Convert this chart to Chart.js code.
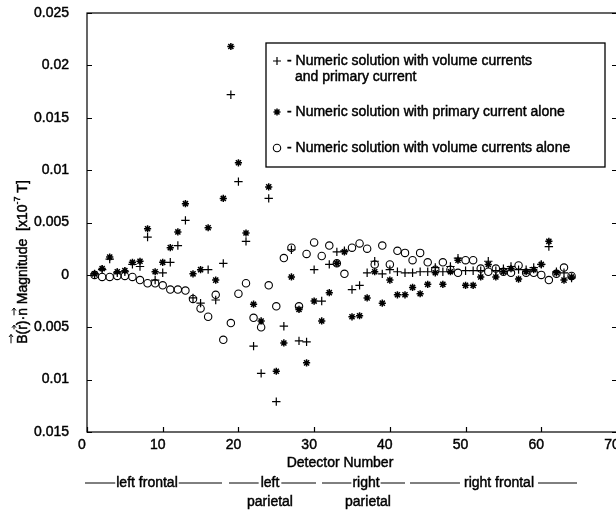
<!DOCTYPE html>
<html>
<head>
<meta charset="utf-8">
<script src="https://cdn.jsdelivr.net/npm/chart.js@4.4.1/dist/chart.umd.min.js"></script>
<style>
  html, body { margin: 0; padding: 0; background: #fff; overflow: hidden; }
  canvas { display: block; }
</style>
</head>
<body>
<canvas id="chart" width="630" height="513" style="width:630px;height:513px"></canvas>
<script>
// detector index (x)
const detectors = [1, 2, 3, 4, 5, 6, 7, 8, 9, 10, 11, 12, 13, 14, 15, 16, 17, 18, 19, 20,
  21, 22, 23, 24, 25, 26, 27, 28, 29, 30, 31, 32, 33, 34, 35, 36, 37, 38, 39, 40,
  41, 42, 43, 44, 45, 46, 47, 48, 49, 50, 51, 52, 53, 54, 55, 56, 57, 58, 59, 60,
  61, 62, 63, 64];

// "+" volume currents and primary current
const volumeAndPrimary = [0.0001, 0.0005, 0.0015, 0.0002, 0.0003, 0.0010, 0.0008, 0.0036, -0.0005, 0.0002,
  0.0012, 0.0028, 0.0052, -0.0022, -0.0027, 0.0005, -0.0024, 0.0011, 0.0172, 0.0089,
  0.0032, -0.0068, -0.0094, 0.0073, -0.0121, -0.0049, 0.0024, -0.0063, -0.0064, 0.0005,
  -0.0025, 0.0010, 0.0022, 0.0023, -0.0014, -0.0010, 0.0002, 0.0013, 0.0001, 0.0005,
  0.0003, 0.0002, 0.0002, 0.0003, 0.0003, 0.0007, 0.0003, 0.0008, 0.0016, 0.0004,
  0.0004, 0.0004, 0.0013, 0.0004, 0.0006, 0.0008, 0.0005, 0.0005, 0.0007, 0.0010,
  0.0027, 0.0003, 0.0002, -0.0003];

// "*" primary current alone
const primaryAlone = [0.0001, 0.0006, 0.0017, 0.0003, 0.0004, 0.0012, 0.0013, 0.0044, 0.0003, 0.0012,
  0.0026, 0.0041, 0.0068, 0.0001, 0.0005, 0.0045, -0.0005, 0.0073, 0.0218, 0.0107,
  0.0040, -0.0028, -0.0044, 0.0084, -0.0092, -0.0065, -0.0002, -0.0033, -0.0084, -0.0025,
  -0.0044, -0.0017, 0.0011, 0.0022, -0.0040, -0.0039, -0.0022, 0.0003, -0.0027, -0.0005,
  -0.0019, -0.0019, -0.0012, -0.0018, -0.0009, 0.0002, -0.0009, 0.0003, 0.0014, -0.0010,
  -0.0010, -0.0002, 0.0010, -0.0002, 0.0003, 0.0006, -0.0004, 0.0003, 0.0005, 0.0010,
  0.0032, 0.0002, -0.0005, -0.0002];

// "o" volume currents alone
const volumeAlone = [0.0000, -0.0002, -0.0002, -0.0001, -0.0001, -0.0002, -0.0005, -0.0008, -0.0008, -0.0010,
  -0.0014, -0.0014, -0.0015, -0.0023, -0.0032, -0.0040, -0.0019, -0.0062, -0.0046, -0.0018,
  -0.0008, -0.0041, -0.0050, -0.0010, -0.0030, 0.0016, 0.0026, -0.0030, 0.0020, 0.0031,
  0.0018, 0.0028, 0.0011, 0.0001, 0.0026, 0.0030, 0.0025, 0.0010, 0.0028, 0.0010,
  0.0023, 0.0021, 0.0014, 0.0021, 0.0012, 0.0005, 0.0012, 0.0005, 0.0002, 0.0014,
  0.0014, 0.0006, 0.0003, 0.0006, 0.0003, 0.0002, 0.0009, 0.0002, 0.0002, 0.0000,
  -0.0005, 0.0001, 0.0007, -0.0001];

const legendLines = [
  '- Numeric solution with volume currents',
  'and primary current',
  '- Numeric solution with primary current alone',
  '- Numeric solution with volume currents alone'
];
const regionNames = ['left frontal', 'left', 'right', 'right frontal', 'parietal'];
const xTitle = 'Detector Number';

const FONT = '"Liberation Sans", Arial, Helvetica, sans-serif';
const HEAVY = 0.45; // slight stroke so text looks like the scanned original

function toPoints(vals) {
  return detectors.map((d, i) => ({ x: d, y: vals[i] }));
}

function text(ctx, s, x, y) {
  ctx.fillText(s, x, y);
  ctx.save();
  ctx.lineWidth = HEAVY;
  ctx.strokeText(s, x, y);
  ctx.restore();
}

// small marker helper for the legend box
function marker(ctx, style, x, y) {
  ctx.beginPath();
  if (style === 'cross') {
    ctx.lineWidth = 1.2;
    ctx.moveTo(x - 4, y); ctx.lineTo(x + 4, y);
    ctx.moveTo(x, y - 4); ctx.lineTo(x, y + 4);
  } else if (style === 'star') {
    ctx.lineWidth = 1.5;
    const r = 3.5;
    for (let k = 0; k < 4; k++) {
      const a = k * Math.PI / 4;
      ctx.moveTo(x - r * Math.cos(a), y - r * Math.sin(a));
      ctx.lineTo(x + r * Math.cos(a), y + r * Math.sin(a));
    }
  } else {
    ctx.lineWidth = 1.1;
    ctx.arc(x, y, 3.7, 0, Math.PI * 2);
  }
  ctx.stroke();
}

function drawYTitle(ctx) {
  ctx.save();
  ctx.translate(23, 262);
  ctx.rotate(-Math.PI / 2);
  const f = '14px ' + FONT, fs = '9px ' + FONT;
  // text, font, dy, arrow height
  const parts = [['B', f, 0, -12], ['(', f, 0, 0], ['r', f, 0, -9], [')\u00b7', f, 0, 0], ['n', f, 0, -9],
    [' Magnitude  [x10', f, 0, 0], ['-7', fs, -5, 0], [' T]', f, 0, 0]];
  let total = 0;
  parts.forEach(p => { ctx.font = p[1]; p.w = ctx.measureText(p[0]).width; total += p.w; });
  let x = -total / 2;
  ctx.textBaseline = 'middle';
  ctx.textAlign = 'left';
  ctx.fillStyle = '#000';
  ctx.strokeStyle = '#000';
  parts.forEach(p => {
    ctx.font = p[1];
    text(ctx, p[0], x, p[2]);
    if (p[3]) {
      const ay = p[3];
      ctx.lineWidth = 1;
      ctx.beginPath();
      ctx.moveTo(x + 0.5, ay); ctx.lineTo(x + p.w, ay);
      ctx.moveTo(x + p.w - 2.5, ay - 2); ctx.lineTo(x + p.w, ay); ctx.lineTo(x + p.w - 2.5, ay + 2);
      ctx.stroke();
    }
    x += p.w;
  });
  ctx.restore();
}

function labelWithLines(ctx, s, cx, y, x0, x1, gap) {
  const w = ctx.measureText(s).width;
  text(ctx, s, cx, y);
  ctx.lineWidth = 1;
  ctx.beginPath();
  ctx.moveTo(x0, y); ctx.lineTo(cx - w / 2 - gap, y);
  ctx.moveTo(cx + w / 2 + gap, y); ctx.lineTo(x1, y);
  ctx.stroke();
}

const decor = {
  id: 'decor',
  afterDraw(chart) {
    const ctx = chart.ctx;
    const { left, right, top, bottom } = chart.chartArea;
    const xs = chart.scales.x, ys = chart.scales.y;
    ctx.save();
    ctx.strokeStyle = '#000';
    ctx.fillStyle = '#000';

    // frame and inward ticks
    ctx.lineWidth = 1.2;
    ctx.strokeRect(left, top, right - left, bottom - top);
    ctx.beginPath();
    ys.ticks.forEach(t => {
      const py = Math.round(ys.getPixelForValue(t.value)) + 0.5;
      ctx.moveTo(left, py); ctx.lineTo(left + 5, py);
      ctx.moveTo(right, py); ctx.lineTo(right - 5, py);
    });
    xs.ticks.forEach(t => {
      const px = Math.round(xs.getPixelForValue(t.value)) + 0.5;
      ctx.moveTo(px, bottom); ctx.lineTo(px, bottom - 5);
    });
    ctx.stroke();

    // legend box
    ctx.fillStyle = '#fff';
    ctx.fillRect(266, 43, 339, 124);
    ctx.lineWidth = 1.3;
    ctx.strokeRect(266, 43, 339, 124);
    ctx.fillStyle = '#000';
    marker(ctx, 'cross', 277, 61);
    marker(ctx, 'star', 277, 112);
    marker(ctx, 'circle', 277, 148);
    ctx.font = '14px ' + FONT;
    ctx.textAlign = 'left';
    ctx.textBaseline = 'middle';
    text(ctx, legendLines[0], 287, 61);
    text(ctx, legendLines[1], 295, 77);
    text(ctx, legendLines[2], 287, 112);
    text(ctx, legendLines[3], 287, 148);

    // axis titles
    ctx.font = '14px ' + FONT;
    ctx.textAlign = 'center';
    text(ctx, xTitle, 340, 463);
    drawYTitle(ctx);

    // brain regions under the axis
    ctx.font = '14px ' + FONT;
    ctx.textAlign = 'center';
    ctx.textBaseline = 'middle';
    labelWithLines(ctx, regionNames[0], 147, 483, 85, 222, 1);
    labelWithLines(ctx, regionNames[1], 270, 483, 229, 316, 2);
    labelWithLines(ctx, regionNames[2], 366, 483, 322, 405, 1);
    labelWithLines(ctx, regionNames[3], 499, 483, 410, 577, 4);
    text(ctx, regionNames[4], 270, 502);
    text(ctx, regionNames[4], 368, 502);
    ctx.restore();
  }
};

// grid lines are hidden; transparent tick marks only reserve label spacing
const hiddenGrid = (len) => ({ display: true, drawOnChartArea: false, drawTicks: true, tickLength: len, color: 'rgba(0,0,0,0)' });

const ctx = document.getElementById('chart').getContext('2d');
new Chart(ctx, {
  type: 'scatter',
  data: {
    datasets: [
      {
        label: 'Numeric solution with volume currents alone',
        data: toPoints(volumeAlone),
        pointStyle: 'circle',
        pointRadius: 3.7,
        pointBorderWidth: 1.1,
        borderColor: '#000',
        backgroundColor: 'rgba(0,0,0,0)'
      },
      {
        label: 'Numeric solution with primary current alone',
        data: toPoints(primaryAlone),
        pointStyle: 'star',
        pointRadius: 3.6,
        pointBorderWidth: 1.5,
        borderColor: '#000',
        backgroundColor: '#000'
      },
      {
        label: 'Numeric solution with volume currents and primary current',
        data: toPoints(volumeAndPrimary),
        pointStyle: 'cross',
        pointRadius: 4.2,
        pointBorderWidth: 1.2,
        borderColor: '#000',
        backgroundColor: '#000'
      }
    ]
  },
  options: {
    responsive: false,
    devicePixelRatio: 1,
    animation: false,
    layout: { padding: { top: 13, right: 13, left: 0, bottom: 0 } },
    plugins: {
      legend: { display: false },
      tooltip: { enabled: false }
    },
    scales: {
      x: {
        type: 'linear',
        min: 0,
        max: 70,
        afterFit: s => { s.height = 81; },
        grid: hiddenGrid(4),
        border: { display: false },
        ticks: {
          stepSize: 10,
          autoSkip: false,
          maxRotation: 0,
          padding: 1,
          labelOffset: -5,
          color: '#000',
          textStrokeColor: '#000',
          textStrokeWidth: HEAVY,
          font: { family: FONT, size: 14 }
        }
      },
      y: {
        min: -0.015,
        max: 0.025,
        afterFit: s => { s.width = 87; },
        grid: hiddenGrid(15),
        border: { display: false },
        ticks: {
          stepSize: 0.005,
          padding: 3,
          color: '#000',
          textStrokeColor: '#000',
          textStrokeWidth: HEAVY,
          font: { family: FONT, size: 14 },
          callback: v => {
            const a = Math.abs(v);
            return a < 1e-9 ? '0' : String(parseFloat(a.toFixed(3)));
          }
        }
      }
    }
  },
  plugins: [decor]
});
</script>
</body>
</html>
